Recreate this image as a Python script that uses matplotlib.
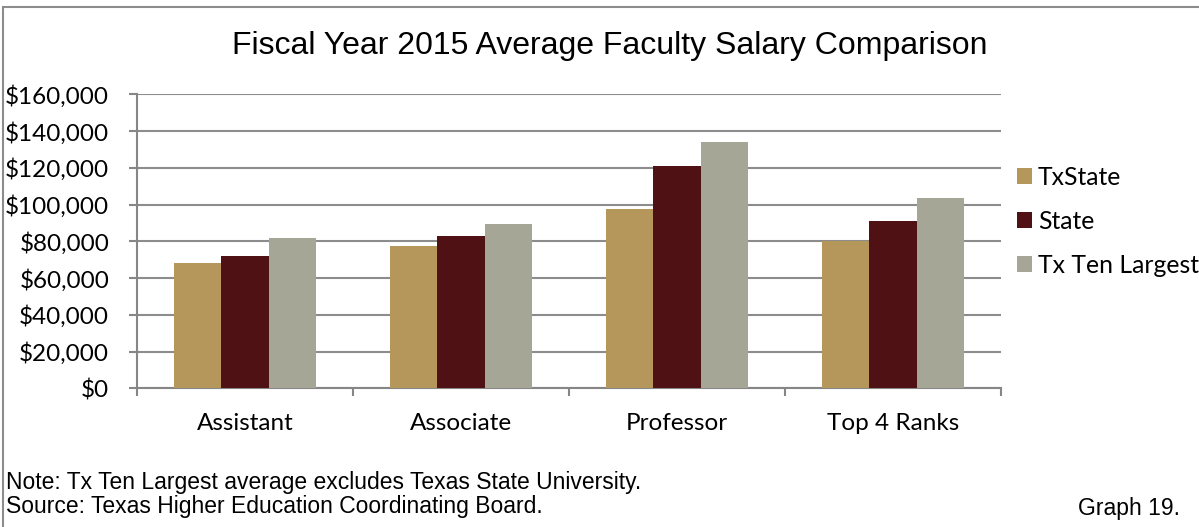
import matplotlib
matplotlib.use("Agg")
import matplotlib.pyplot as plt
import numpy as np
from matplotlib.patches import Rectangle
from matplotlib.ticker import FuncFormatter

categories = ["Assistant", "Associate", "Professor", "Top 4 Ranks"]
series_names = ["TxState", "State", "Tx Ten Largest"]
txstate = [68200, 77300, 97700, 80200]
state = [72200, 82700, 121000, 91000]
ten_largest = [81600, 89200, 134200, 103700]
colors = ["#B5975B", "#501115", "#A5A696"]
yticks = [0, 20000, 40000, 60000, 80000, 100000, 120000, 140000, 160000]

W, H = 1199, 527
fig = plt.figure(figsize=(W / 100, H / 100), dpi=100)
ax = fig.add_axes([137 / W, 1 - 388.3 / H, (1001 - 137) / W, (388.3 - 94.3) / H])

x = np.arange(len(categories))
bw = 0.22
for i, (vals, name) in enumerate(zip([txstate, state, ten_largest], series_names)):
    ax.bar(x + (i - 1) * bw, vals, width=bw, color=colors[i], label=name, zorder=3)

ax.set_xlim(-0.5, len(categories) - 0.5)
ax.set_ylim(0, 160000)
ax.set_yticks(yticks)
ax.yaxis.set_major_formatter(FuncFormatter(lambda v, p: "${:,.0f}".format(v)))
ax.set_xticks(x)
ax.set_xticklabels(categories)
ax.set_xticks(np.arange(-0.5, len(categories)), minor=True)
ax.tick_params(axis="x", which="major", length=0, pad=18, labelsize=17.5)
ax.tick_params(axis="x", which="minor", length=6, color="#868686", width=1.5)
ax.tick_params(axis="y", length=6, color="#868686", width=1.5, labelsize=17.5, pad=14)
for lab in ax.get_xticklabels() + ax.get_yticklabels():
    lab.set_fontfamily("Lato")
ax.grid(axis="y", color="#8C8C8C", linewidth=1.5, zorder=0)
ax.set_axisbelow(True)
for s in ["top", "right"]:
    ax.spines[s].set_visible(False)
for s in ["left", "bottom"]:
    ax.spines[s].set_color("#868686")
    ax.spines[s].set_linewidth(1.5)

leg = fig.legend(loc="upper left", bbox_to_anchor=(1017 / W, 1 - 166 / H), frameon=False,
                 borderaxespad=0, borderpad=0,
                 handlelength=0.6, handleheight=0.6, handletextpad=0.25, labelspacing=0.85,
                 prop={"family": "Lato", "size": 17.8})

fig.text(610 / W, 1 - 46 / H, "Fiscal Year 2015 Average Faculty Salary Comparison",
         ha="center", va="center", fontsize=23, family="Liberation Sans")
fig.text(6 / W, 1 - 482 / H, "Note: Tx Ten Largest average excludes Texas State University.",
         ha="left", va="center", fontsize=16.5, family="Liberation Sans")
fig.text(6 / W, 1 - 507 / H, "Source: Texas Higher Education Coordinating Board.",
         ha="left", va="center", fontsize=16.5, family="Liberation Sans")
fig.text(1180 / W, 1 - 508 / H, "Graph 19.", ha="right", va="center", fontsize=16.5,
         family="Liberation Sans")

fig.patches.append(Rectangle((3 / W, -0.1), 1.2, 1 - 7 / H + 0.1, transform=fig.transFigure,
                             fill=False, edgecolor="#8C8C8C", linewidth=1.5, zorder=0))

fig.savefig("out.png", dpi=100)
